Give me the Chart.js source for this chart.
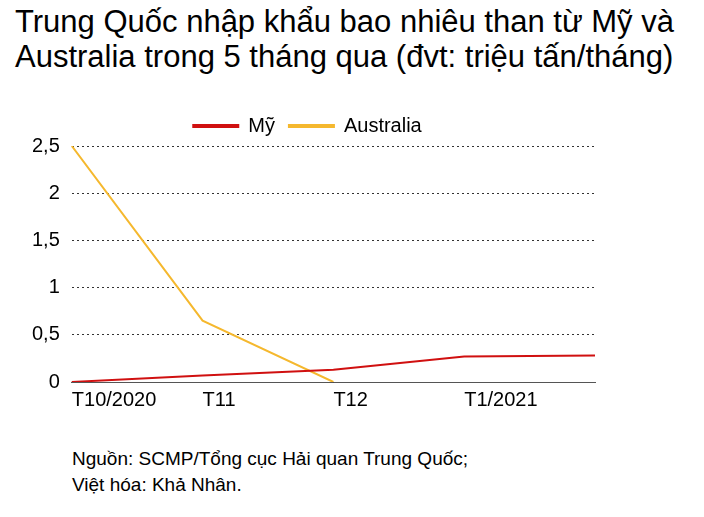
<!DOCTYPE html>
<html>
<head>
<meta charset="utf-8">
<script src="https://cdn.jsdelivr.net/npm/chart.js@4"></script>
<style>
  body { margin: 0; background: #fff; font-family: "Liberation Sans", Arial, sans-serif; }
  #title { position: absolute; left: 15px; top: 4px; font-size: 31px; line-height: 35px; color: #000; }
  #wrap { position: absolute; left: 0; top: 102px; width: 620px; height: 316px; }
  #note { position: absolute; left: 72px; top: 446px; font-size: 19px; line-height: 26px; color: #000; }
</style>
</head>
<body>
<div id="title">Trung Quốc nhập khẩu bao nhiêu than từ Mỹ và<br>Australia trong 5 tháng qua (đvt: triệu tấn/tháng)</div>
<div id="wrap"><canvas id="chart"></canvas></div>
<div id="note">Nguồn: SCMP/Tổng cục Hải quan Trung Quốc;<br>Việt hóa: Khả Nhân.</div>
<script>
// months shown on the x axis (last one has no label in the source)
const months = ['T10/2020', 'T11', 'T12', 'T1/2021', ''];
const usValues = [0, 0.07, 0.13, 0.27, 0.28];
const auValues = [2.5, 0.65, 0, null, null];
const yTicks = [0, 0.5, 1, 1.5, 2, 2.5];

const ctx = document.getElementById('chart').getContext('2d');
new Chart(ctx, {
    type: 'line',
    data: {
        labels: months,
        datasets: [
            { label: 'Mỹ', data: usValues, borderColor: '#d01010', backgroundColor: '#d01010', borderWidth: 2, pointRadius: 0, tension: 0 },
            { label: 'Australia', data: auValues, borderColor: '#f5b82e', backgroundColor: '#f5b82e', borderWidth: 2, pointRadius: 0, tension: 0 }
        ]
    },
    options: {
        responsive: true,
        maintainAspectRatio: false,
        animation: false,
        layout: { padding: { left: 20, right: 25 } },
        plugins: {
            legend: {
                labels: { boxWidth: 45, boxHeight: 2, color: '#000', font: { size: 20, family: 'Liberation Sans' }, padding: 14 }
            },
            tooltip: { enabled: false }
        },
        scales: {
            x: {
                offset: false,
                grid: { display: false, drawTicks: false },
                border: { color: '#555', width: 1 },
                ticks: { color: '#000', align: 'start', maxRotation: 0, autoSkip: false, padding: 6, font: { size: 20, family: 'Liberation Sans' } }
            },
            y: {
                min: 0, max: 2.5,
                afterBuildTicks: axis => { axis.ticks = yTicks.map(v => ({ value: v })); },
                grid: { color: '#333', lineWidth: 1, drawTicks: false },
                border: { display: false, dash: [2, 3] },
                ticks: {
                    color: '#000', padding: 12, font: { size: 20, family: 'Liberation Sans' },
                    callback: v => String(v).replace('.', ',')
                }
            }
        }
    }
});
</script>
</body>
</html>
